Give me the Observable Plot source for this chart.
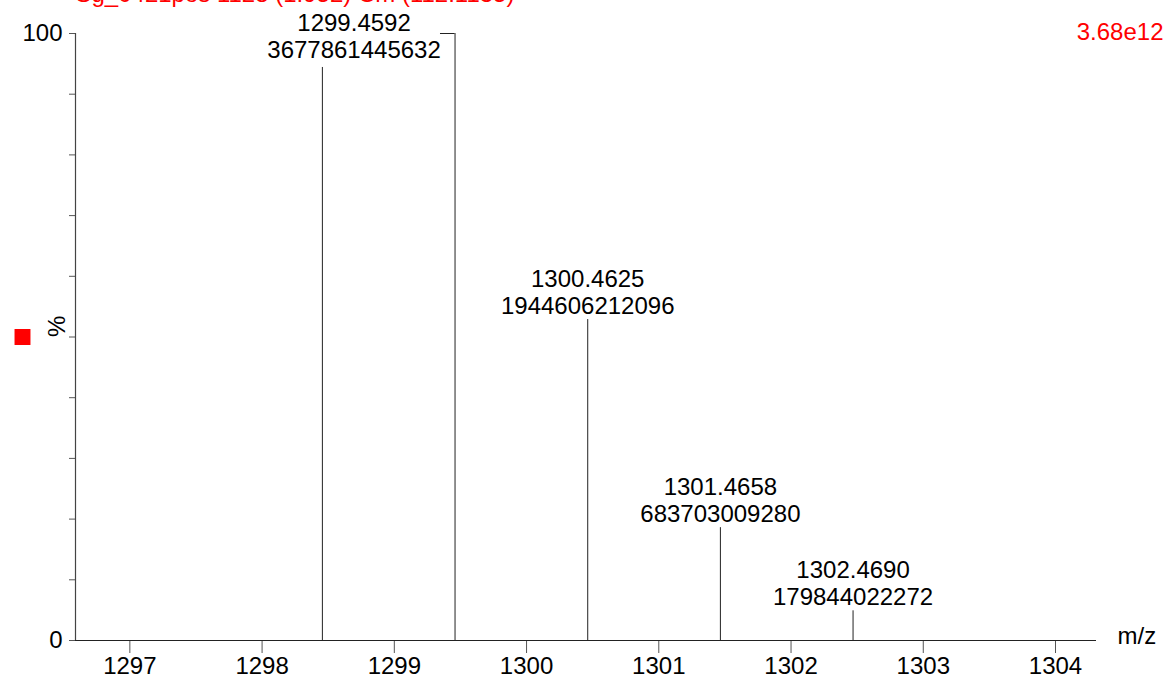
<!DOCTYPE html>
<html>
<head>
<meta charset="utf-8">
<script src="https://cdn.jsdelivr.net/npm/d3@7"></script>
<script src="https://cdn.jsdelivr.net/npm/@observablehq/plot@0.6"></script>
<style>
  html, body { margin: 0; padding: 0; background: #fff; }
  #chart svg { display: block; }
</style>
</head>
<body>
<div id="chart"></div>
<script>
// ---- data ----
const mz = [1298.4560, 1299.4592, 1300.4625, 1301.4658, 1302.4690];
const intensity = [3472000000000, 3677861445632, 1944606212096, 683703009280, 179844022272];
const labeled = [false, true, true, true, true];
const xTicks = [1297, 1298, 1299, 1300, 1301, 1302, 1303, 1304];
const yTicks = [0, 10, 20, 30, 40, 50, 60, 70, 80, 90, 100];
const yTickLabels = [0, 100];
const xDomain = [1296.589, 1304.31];
const headerLeft = "Sg_0421pos 1128 (1.952) Cm (112:1135)";
const scaleLabel = "3.68e12";
const xLabel = "m/z";
const yLabel = "%";

const base = d3.max(intensity);
const peaks = mz.map((m, i) => ({
  mz: m,
  intensity: intensity[i],
  pct: intensity[i] / base * 100,
  labeled: labeled[i],
  isBase: intensity[i] === base
}));
const labelText = d => `${d.mz.toFixed(4)}\n${d.intensity}`;

const red = "#ff0000";
const chart = Plot.plot({
  width: 1164,
  height: 679,
  marginLeft: 75,
  marginRight: 68,
  marginTop: 33,
  marginBottom: 39,
  x: {domain: xDomain},
  y: {domain: [0, 100]},
  style: {
    fontFamily: "'Liberation Sans', Arial, sans-serif",
    fontSize: "24px",
    color: "#000",
    background: "#fff",
    overflow: "hidden"
  },
  marks: [
    Plot.axisX({ticks: xTicks, tickSize: 13, tickPadding: 3, label: null, tickFormat: d => String(d), stroke: "#555"}),
    Plot.axisY({ticks: yTicks, tickSize: 6, tickPadding: 7, label: null,
      tickFormat: d => yTickLabels.includes(d) ? String(d) : "", stroke: "#555"}),
    Plot.ruleX([xDomain[0]], {stroke: "#444", strokeWidth: 1.2}),
    Plot.ruleY([0], {stroke: "#222", strokeWidth: 1.2}),
    Plot.ruleX(peaks, {x: "mz", y1: 0, y2: "pct", stroke: "#222", strokeWidth: 1}),
    Plot.ruleY(peaks.filter(d => d.isBase), {y: "pct", x1: d => d.mz - 0.11, x2: "mz", stroke: "#222", strokeWidth: 1}),
    Plot.text(peaks.filter(d => d.labeled && !d.isBase), {
      x: "mz", y: "pct", text: labelText, lineAnchor: "bottom", dy: -6, lineHeight: 1.125, fill: "#000"
    }),
    Plot.text(peaks.filter(d => d.isBase), {
      x: "mz", y: "pct", text: labelText, lineAnchor: "bottom", dx: -101, dy: 24, lineHeight: 1.125, fill: "#000"
    }),
    Plot.text([xLabel], {frameAnchor: "bottom-right", textAnchor: "start", dx: 21, dy: 3, fill: "#000"}),
    Plot.text([yLabel], {frameAnchor: "left", y: [50], dx: -18, rotate: -90, fill: "#000"}),
    Plot.dot([yLabel], {frameAnchor: "left", y: [50], dx: -53, symbol: "square", r: 9, fill: red, stroke: null}),
    Plot.text([scaleLabel], {frameAnchor: "top-right", textAnchor: "end", dx: 67, dy: -11, fill: red}),
    Plot.text([headerLeft], {frameAnchor: "top-left", textAnchor: "start", lineAnchor: "bottom", dx: 0, dy: -32, fill: red})
  ]
});
document.getElementById("chart").appendChild(chart);
</script>
</body>
</html>
